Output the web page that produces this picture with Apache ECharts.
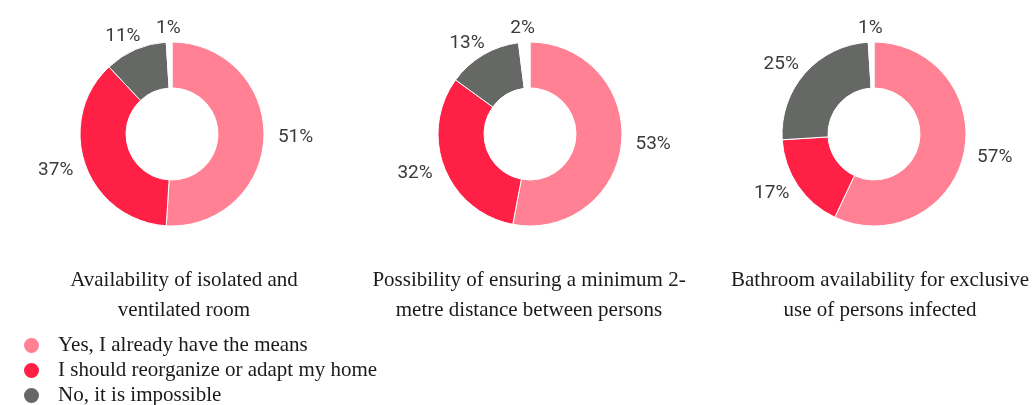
<!DOCTYPE html>
<html>
<head>
<meta charset="utf-8">
<script src="https://cdn.jsdelivr.net/npm/echarts@6/dist/echarts.min.js"></script>
<style>
  html, body { margin: 0; padding: 0; background: #fff; }
  #chart { width: 1034px; height: 405px; }
</style>
</head>
<body>
<div id="chart"></div>
<script>
// answer categories (the last one is the unlabelled blank slice)
const categories = ['Yes, I already have the means', 'I should reorganize or adapt my home', 'No, it is impossible', 'No answer']
const titles = [
  'Availability of isolated and\nventilated room',
  'Possibility of ensuring a minimum 2-\nmetre distance between persons',
  'Bathroom availability for exclusive\nuse of persons infected'
]
// percentages per question
const isolatedRoom = [51, 37, 11, 1]
const distance = [53, 32, 13, 2]
const bathroom = [57, 17, 25, 1]
const allSeries = [isolatedRoom, distance, bathroom]

const colors = ['#FF8193', '#FF2046', '#666865', 'rgba(0,0,0,0)']
const centersX = [172, 530, 874]
const centerY = 134
const titleX = [184, 529, 880]
const labelRadius = 106

const chart = echarts.init(document.getElementById('chart'))

// put each % label near its slice, like the spreadsheet does
const placeLabel = params => {
  const values = allSeries[params.seriesIndex]
  const total = values.reduce((a, b) => a + b, 0)
  let before = 0
  for (let k = 0; k < params.dataIndex; k++) before += values[k]
  const mid = ((before + values[params.dataIndex] / 2) / total) * Math.PI * 2
  const ux = Math.sin(mid)
  const uy = -Math.cos(mid)
  const w = params.labelRect.width
  return {
    x: centersX[params.seriesIndex] + ux * labelRadius + (ux * w) / 2,
    y: centerY + uy * labelRadius,
    align: 'center',
    verticalAlign: 'middle'
  }
}

const buildSeries = (values, i) => ({
  type: 'pie',
  radius: [46, 92],
  center: [centersX[i], centerY],
  startAngle: 90,
  clockwise: true,
  avoidLabelOverlap: false,
  silent: true,
  itemStyle: { borderColor: '#fff', borderWidth: 1 },
  label: {
    show: true,
    position: 'outside',
    formatter: '{c}%',
    fontFamily: 'Roboto',
    fontSize: 19,
    color: '#3a3a3a'
  },
  labelLine: { show: false },
  labelLayout: placeLabel,
  data: values.map((v, k) => ({
    name: categories[k],
    value: v,
    itemStyle: { color: colors[k] }
  }))
})

const option = {
  animation: false,
  title: titles.map((t, i) => ({
    text: t,
    left: titleX[i],
    top: 265,
    padding: 0,
    textAlign: 'center',
    textStyle: {
      fontFamily: 'Liberation Serif',
      fontWeight: 'normal',
      fontSize: 21,
      lineHeight: 30,
      color: '#1a1a1a'
    }
  })),
  legend: {
    orient: 'vertical',
    left: 22,
    top: 335,
    padding: 0,
    height: 90,
    icon: 'circle',
    itemWidth: 17,
    itemHeight: 17,
    itemGap: 4,
    data: categories.slice(0, 3),
    textStyle: {
      fontFamily: 'Liberation Serif',
      fontSize: 21,
      color: '#1a1a1a',
      padding: [0, 0, 0, 13]
    }
  },
  series: allSeries.map(buildSeries)
}

chart.setOption(option)
</script>
</body>
</html>
